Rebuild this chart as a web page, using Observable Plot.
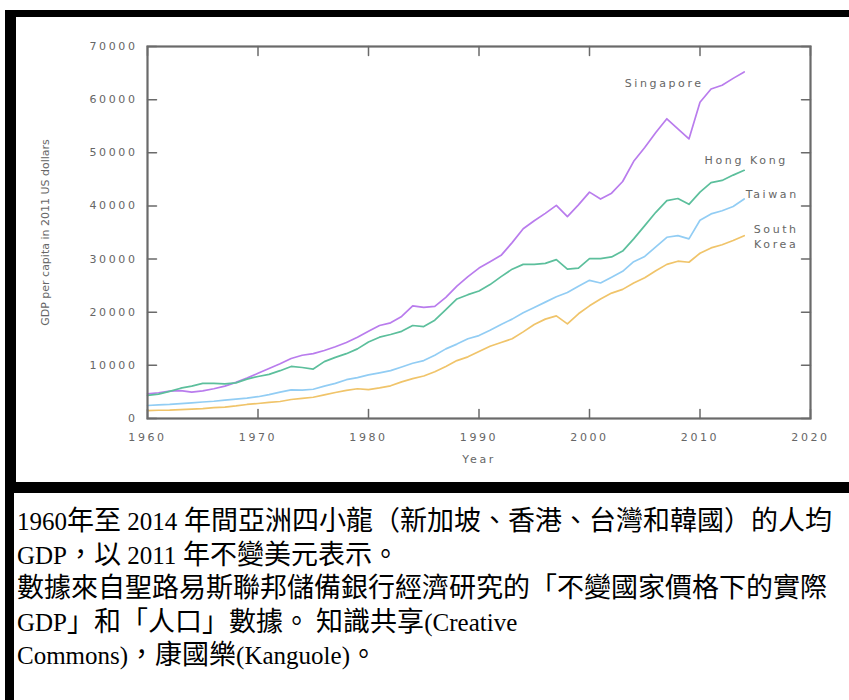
<!DOCTYPE html>
<html>
<head>
<meta charset="utf-8">
<script src="https://cdn.jsdelivr.net/npm/d3@7"></script>
<script src="https://cdn.jsdelivr.net/npm/@observablehq/plot@0.6"></script>
<style>
@font-face {
  font-family: "CJKWide";
  src: local("Noto Sans CJK TC"), local("Noto Sans CJK TC Regular"), local("NotoSansCJKtc-Regular");
  size-adjust: 108%;
  unicode-range: U+2E80-9FFF, U+F900-FAFF, U+FE30-FE4F, U+FF00-FFEF, U+3000-303F;
}
html, body { margin: 0; padding: 0; background: #fff; width: 849px; height: 700px; overflow: hidden; }
#frame { position: absolute; left: 5px; top: 10px; width: 844px; height: 483px; background: #000; }
#chart { position: absolute; left: 16px; top: 17px; width: 833px; height: 465px; background: #fff; }
#leftbar { position: absolute; left: 5px; top: 493px; width: 9px; height: 207px; background: #000; }
#caption { position: absolute; left: 17px; top: 505px; font-family: "Liberation Serif", "CJKWide", "Noto Sans CJK TC", serif; font-size: 25px; line-height: 33.6px; color: #000; white-space: nowrap; }
</style>
</head>
<body>
<div id="frame"></div>
<div id="chart"></div>
<div id="leftbar"></div>
<div id="caption">
1960年至 2014 年間亞洲四小龍（新加坡、香港、台灣和韓國）的人均<br>
GDP，以 2011 年不變美元表示。<br>
數據來自聖路易斯聯邦儲備銀行經濟研究的「不變國家價格下的實際<br>
GDP」和「人口」數據。 知識共享(Creative<br>
Commons)，康國樂(Kanguole)。
</div>
<script>
const years = [1960,1961,1962,1963,1964,1965,1966,1967,1968,1969,
  1970,1971,1972,1973,1974,1975,1976,1977,1978,1979,
  1980,1981,1982,1983,1984,1985,1986,1987,1988,1989,
  1990,1991,1992,1993,1994,1995,1996,1997,1998,1999,
  2000,2001,2002,2003,2004,2005,2006,2007,2008,2009,
  2010,2011,2012,2013,2014];

const singapore = [4650,4850,5150,5250,4950,5200,5600,6100,6800,7600,
  8500,9400,10300,11300,11900,12200,12800,13500,14300,15300,
  16400,17500,18000,19200,21200,20900,21100,22800,24900,26700,
  28300,29500,30700,33100,35700,37200,38600,40100,38000,40200,
  42600,41300,42400,44600,48400,51000,53800,56400,54500,52600,
  59500,62000,62700,64000,65200];

const hongKong = [4350,4600,5100,5700,6100,6600,6600,6500,6700,7400,
  7900,8300,9000,9800,9600,9300,10700,11500,12200,13100,
  14400,15300,15800,16400,17500,17300,18500,20500,22500,23300,
  24000,25200,26700,28100,29000,29000,29200,29900,28100,28300,
  30100,30100,30400,31500,33800,36300,38800,41000,41400,40300,
  42600,44400,44800,45800,46700];

const taiwan = [2450,2550,2650,2800,2950,3100,3250,3450,3650,3850,
  4100,4500,4950,5400,5350,5500,6100,6600,7300,7700,
  8200,8600,9000,9700,10400,10900,11900,13100,14000,15000,
  15600,16600,17700,18700,19900,20900,21900,22900,23700,24900,
  26000,25500,26600,27700,29500,30500,32300,34100,34400,33800,
  37300,38500,39100,39900,41300];

const southKorea = [1500,1550,1580,1680,1780,1850,2030,2150,2370,2640,
  2820,3040,3200,3570,3800,4000,4450,4900,5300,5600,
  5450,5750,6150,6900,7500,8000,8800,9800,10900,11600,
  12600,13600,14300,15000,16300,17700,18700,19300,17800,19700,
  21200,22500,23600,24300,25500,26500,27800,29000,29600,29400,
  31100,32100,32700,33500,34400];

const seriesNames = ["Singapore", "Hong Kong", "Taiwan", "South\nKorea"];
const seriesColors = ["#b97ced", "#5cbf9c", "#92cdf4", "#f0c46a"];
const xTicks = [1960, 1970, 1980, 1990, 2000, 2010, 2020];
const yTicks = [0, 10000, 20000, 30000, 40000, 50000, 60000, 70000];
const xLabel = "Year";
const yLabel = "GDP per capita in 2011 US dollars";

// label placement offsets (pixels) from each series' last point
const labelOffsets = [[-80, 10], [2, -11], [28, -6], [32, 0]];

const seriesValues = [singapore, hongKong, taiwan, southKorea];
const rows = seriesValues.flatMap((vals, s) =>
  years.map((year, i) => ({series: s, year, value: vals[i]})));

const tickShape = {draw(context, l) { context.moveTo(0, 0); context.lineTo(0, -l); }};
const frameColor = "#6a6a6a";
const tickLen = 9;

const marks = [];
seriesValues.forEach((vals, s) => {
  marks.push(Plot.line(rows.filter(d => d.series === s), {
    x: "year", y: "value", stroke: seriesColors[s], strokeWidth: 1.7
  }));
});
seriesValues.forEach((vals, s) => {
  const last = rows.filter(d => d.series === s).at(-1);
  marks.push(Plot.text([last], {
    x: "year", y: "value", text: () => seriesNames[s],
    dx: labelOffsets[s][0], dy: labelOffsets[s][1],
    textAnchor: "middle", lineAnchor: "middle", lineHeight: 1.35,
    fill: "#666", fontSize: 11
  }));
});
marks.push(
  Plot.vector(xTicks, {x: d => d, y: () => 0, length: tickLen, rotate: 0, anchor: "start", shape: tickShape, stroke: frameColor, strokeWidth: 1.5}),
  Plot.vector(xTicks, {x: d => d, y: () => 70000, length: tickLen, rotate: 180, anchor: "start", shape: tickShape, stroke: frameColor, strokeWidth: 1.5}),
  Plot.vector(yTicks, {x: () => 1960, y: d => d, length: tickLen, rotate: 90, anchor: "start", shape: tickShape, stroke: frameColor, strokeWidth: 1.5}),
  Plot.vector(yTicks, {x: () => 2020, y: d => d, length: tickLen, rotate: 270, anchor: "start", shape: tickShape, stroke: frameColor, strokeWidth: 1.5}),
  Plot.frame({stroke: frameColor, strokeWidth: 2.2}),
  Plot.axisX({ticks: xTicks, tickSize: 0, tickPadding: 15, tickFormat: d => String(d), label: null, fill: "#666", fontSize: 11}),
  Plot.axisY({ticks: yTicks, tickSize: 0, tickPadding: 10, tickFormat: d => String(d), label: null, fill: "#666", fontSize: 11}),
  Plot.text([xLabel], {frameAnchor: "bottom", dy: 44, text: d => d, fill: "#666", fontSize: 11}),
  Plot.text([yLabel], {frameAnchor: "left", dx: -102, rotate: -90, textAnchor: "middle", text: d => d, fill: "#666", fontSize: 11})
);

const chart = Plot.plot({
  width: 833,
  height: 465,
  marginLeft: 131,
  marginRight: 39,
  marginTop: 29,
  marginBottom: 64,
  x: {domain: [1960, 2020], axis: null},
  y: {domain: [0, 70000], axis: null},
  style: {fontFamily: "DejaVu Sans, sans-serif", fontSize: "11px", letterSpacing: "2.6px", background: "#fff"},
  marks
});
d3.select(chart).selectAll("text").filter(function() { return this.textContent === yLabel; })
  .style("letter-spacing", "0px");
document.getElementById("chart").appendChild(chart);
</script>
</body>
</html>
